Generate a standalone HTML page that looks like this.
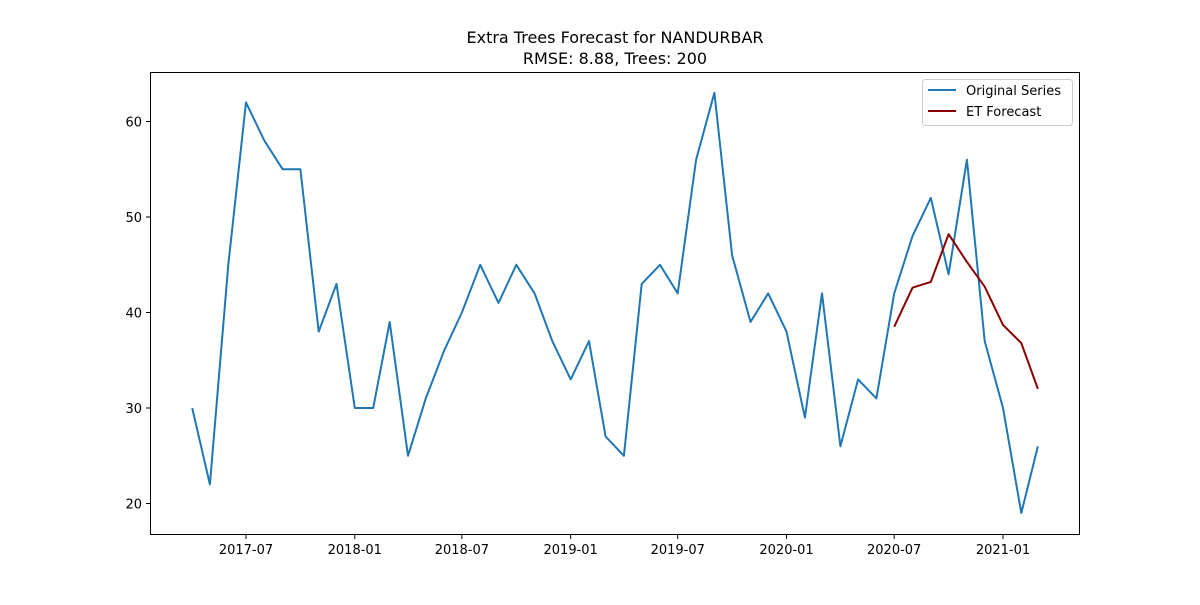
<!DOCTYPE html>
<html><head><meta charset="utf-8"><style>
body{margin:0;background:#fff;font-family:"Liberation Sans","DejaVu Sans",sans-serif}
</style></head><body>
<svg id="chart" width="1200" height="600" xmlns="http://www.w3.org/2000/svg" font-family="DejaVu Sans, Liberation Sans, sans-serif">
<rect width="1200" height="600" fill="#fff"/>
<text x="615" y="43" text-anchor="middle" font-size="16">Extra Trees Forecast for NANDURBAR</text>
<text x="615" y="64" text-anchor="middle" font-size="16">RMSE: 8.88, Trees: 200</text>
<g id="axes"></g>
<g id="series"></g>
<rect x="150.5" y="72.5" width="929" height="462" fill="none" stroke="#000" stroke-width="1"/>
<g>
<rect x="922.5" y="79.5" width="150" height="46" rx="3" fill="#fff" stroke="#ccc"/>
<line x1="928" y1="90" x2="956" y2="90" stroke="#1f77b4" stroke-width="2"/>
<text x="966" y="95" font-size="13">Original Series</text>
<line x1="928" y1="111" x2="956" y2="111" stroke="#8b0000" stroke-width="2"/>
<text x="966" y="116" font-size="13">ET Forecast</text>
</g>
</svg>
<script>
const origStart = [2017, 4];
const origValues = [30,22,45,62,58,55,55,38,43,30,30,39,25,31,36,40,45,41,45,42,37,33,37,27,25,43,45,42,56,63,46,39,42,38,29,42,26,33,31,42,48,52,44,56,37,30,19,26];
const fcStart = [2020, 7];
const fcValues = [38.5,42.6,43.2,48.2,45.3,42.7,38.7,36.8,32.0];
const yTicks = [20,30,40,50,60];
const xTickLabels = ["2017-07","2018-01","2018-07","2019-01","2019-07","2020-01","2020-07","2021-01"];

const NS="http://www.w3.org/2000/svg";
const t0=Date.UTC(2017,6,1), t1=Date.UTC(2021,0,1);
function xScale(ms){return 246+(ms-t0)/(t1-t0)*757;}
function yScale(v){return 503.5-(v-20)*9.55;}
function monthMs(start,i){const m=start[1]-1+i;return Date.UTC(start[0]+Math.floor(m/12),m%12,1);}
const axes=document.getElementById('axes'), series=document.getElementById('series');
function mk(tag,attrs,parent){const e=document.createElementNS(NS,tag);for(const k in attrs)e.setAttribute(k,attrs[k]);parent.appendChild(e);return e;}
yTicks.forEach(v=>{const y=yScale(v);
 const l=mk('line',{x1:146,x2:150,y1:y,y2:y,stroke:'#000'},axes);
 
 
 const t=mk('text',{x:142,y:y+5,'text-anchor':'end','font-size':13},axes);t.textContent=v;
 
 
});
xTickLabels.forEach(s=>{const [yy,mm]=s.split('-').map(Number);const x=xScale(Date.UTC(yy,mm-1,1));
 const l=mk('line',{x1:x,x2:x,y1:535,y2:539,stroke:'#000'},axes);
 
 
 const t=mk('text',{x:x,y:554,'text-anchor':'middle','font-size':13},axes);t.textContent=s;
 
 
});
function line(start,vals,color,name){
 const pts=vals.map((v,i)=>xScale(monthMs(start,i)).toFixed(1)+','+yScale(v).toFixed(1)).join(' ');
 const p=mk('polyline',{points:pts,fill:'none',stroke:color,'stroke-width':2,'stroke-linejoin':'round'},series);
 
 
}
line(origStart,origValues,'#1f77b4','original-series-line');
line(fcStart,fcValues,'#8b0000','et-forecast-line');
</script>
</body></html>
